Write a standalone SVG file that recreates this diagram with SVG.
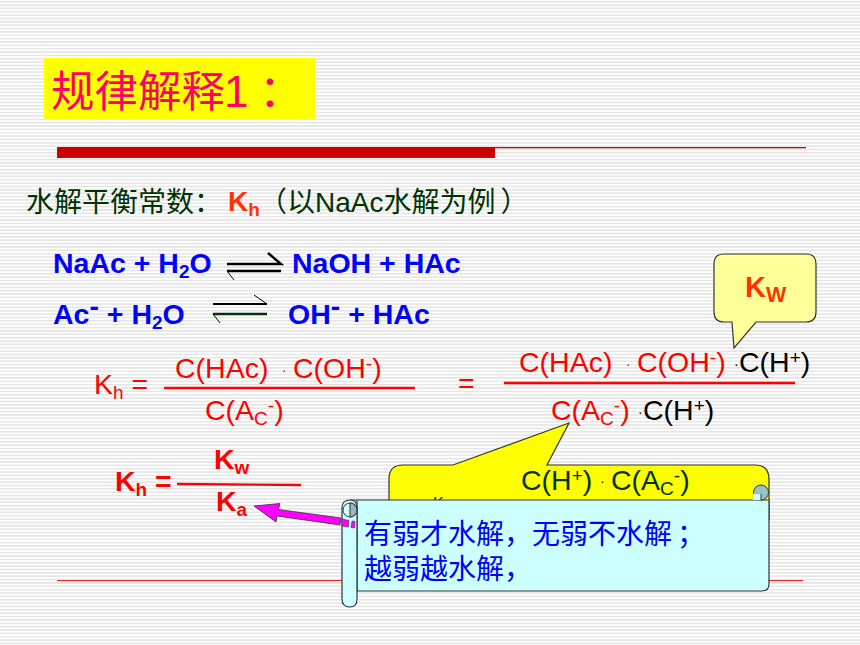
<svg xmlns="http://www.w3.org/2000/svg" width="860" height="645" viewBox="0 0 860 645">
<style>
text{font-family:"Liberation Sans","Noto Sans CJK SC",sans-serif}
.cjk{font-family:"Noto Sans CJK SC","Liberation Sans",sans-serif}
.blue{fill:#0000ff;font-weight:bold;font-size:28.500px}
.red{fill:#ff0000;font-size:28.500px}
.blk{fill:#000;font-size:28.500px}
.bold{fill:#ff0000;font-weight:bold;font-size:28.500px}
.dk{fill:#003300;font-size:28.500px}
.sub{font-size:19px}
.dot{font-size:14px}
.eqb{stroke:#000;fill:none;stroke-width:2.4}
.rl{stroke:#ff0000;stroke-width:2.4;fill:none}
.ol{stroke:#333;stroke-width:1.2}
</style>
<defs>
<pattern id="stripes" width="10" height="3.36" patternUnits="userSpaceOnUse">
<rect width="10" height="3.36" fill="#fff"/>
<rect y="0.9" width="10" height="1.5" fill="#e4e4e4"/>
</pattern>
</defs>
<rect width="860" height="645" fill="url(#stripes)"/>
<g id="title">
<rect x="44" y="58" width="271" height="61" fill="#ffff00"/>
<text x="51" y="107" class="cjk" font-size="43.500" fill="#ff0066">规律解释</text>
<text x="224" y="107" font-size="44" fill="#ff0066">1</text>
<text x="259" y="107" class="cjk" font-size="44" fill="#ff0066">：</text>
</g>
<g id="rule-top">
<rect x="57" y="147" width="438" height="11" fill="#cc0000"/>
<rect x="495" y="147" width="311" height="1.300" fill="#cc0000"/>
</g>
<g id="rule-bottom"><rect x="57" y="580" width="746" height="1.200" fill="#e83030"/></g>
<g id="heading">
<text x="26" y="212" font-size="28" class="cjk" fill="#003300">水解平衡常数：</text>
<text x="228" y="211" font-size="28" font-weight="bold" fill="#ff3300">K<tspan font-size="19" dy="5">h</tspan></text>
<text x="259" y="212" font-size="28" fill="#003300"><tspan class="cjk">（以</tspan>NaAc<tspan class="cjk">水解为例</tspan><tspan class="cjk" dx="5">）</tspan></text>
</g>
<g id="eq1">
<text x="53" y="273" class="blue">NaAc + H<tspan class="sub" dy="5">2</tspan><tspan dy="-5">O</tspan></text>
<text x="292" y="273" class="blue">NaOH + HAc</text>
</g>
<g id="eq2">
<text x="53" y="324" class="blue">Ac<tspan dy="-8">-</tspan><tspan dy="8"> + H</tspan><tspan class="sub" dy="5">2</tspan><tspan dy="-5">O</tspan></text>
<text x="288" y="324" class="blue">OH<tspan dy="-8">-</tspan><tspan dy="8"> + HAc</tspan></text>
</g>
<g id="connectors">
<path class="eqb" d="M227 264H281L268 253"/>
<path class="eqb" d="M227 271H281"/>
<path stroke="#000" fill="none" d="M227 271L234 280"/>
<path stroke="#000" stroke-width="2" fill="none" d="M213 304H267"/>
<path stroke="#000" fill="none" d="M267 304L254 295"/>
<path stroke="#003300" stroke-width="2.4" fill="none" d="M213 314H267"/>
<path stroke="#000" fill="none" d="M213 314L220 323"/>
<path d="M254 506L280 503.500L278.500 509.500L341 518L340 525L277 516L276 522Z" fill="#ff00ff" stroke="#333" stroke-width="0.8"/>
</g>
<g id="kh-formula">
<text x="94" y="394" class="red">K<tspan class="sub" dy="5">h</tspan><tspan dy="-5"> =</tspan></text>
<text x="175" y="378" class="red">C(HAc)</text>
<text x="282" y="375" class="red dot">·</text>
<text x="293" y="378" class="red">C(OH<tspan class="sub" dy="-8">-</tspan><tspan dy="8">)</tspan></text>
<line class="rl" x1="164" y1="388" x2="415" y2="388"/>
<text x="205" y="420" class="red">C(A<tspan class="sub" dy="5">C</tspan><tspan class="sub" dy="-13">-</tspan><tspan dy="8">)</tspan></text>
</g>
<g id="kh-expanded">
<text x="458" y="393" class="red">=</text>
<text x="519" y="372" class="red">C(HAc)</text>
<text x="626" y="369" class="red dot">·</text>
<text x="637" y="372" class="red">C(OH<tspan class="sub" dy="-8">-</tspan><tspan dy="8">)</tspan></text>
<text x="734" y="369" class="blk dot">·</text>
<text x="739" y="372" class="blk">C(H<tspan class="sub" dy="-8">+</tspan><tspan dy="8">)</tspan></text>
<line class="rl" x1="504" y1="383" x2="795" y2="383"/>
<text x="551" y="420" class="red">C(A<tspan class="sub" dy="5">C</tspan><tspan class="sub" dy="-13">-</tspan><tspan dy="8">)</tspan></text>
<text x="638" y="417" class="blk dot">·</text>
<text x="643" y="420" class="blk">C(H<tspan class="sub" dy="-8">+</tspan><tspan dy="8">)</tspan></text>
</g>
<g id="kw-callout">
<path class="ol" fill="#ffff99" d="M724 254H806Q816 254 816 264V312Q816 322 806 322H756L734 348L732 322H724Q714 322 714 312V264Q714 254 724 254Z"/>
<text x="745" y="297" font-size="29" font-weight="bold" fill="#ff3300">K<tspan font-size="21.500" dy="5">W</tspan></text>
</g>
<g id="kh-result">
<text x="115" y="491" class="bold">K<tspan class="sub" dy="5">h</tspan><tspan dy="-5"> =</tspan></text>
<text x="214" y="469" class="bold">K<tspan class="sub" dy="5">w</tspan></text>
<line class="rl" x1="177" y1="484" x2="301" y2="485"/>
<text x="216" y="511" class="bold">K<tspan class="sub" dy="5">a</tspan></text>
</g>
<g id="ka-callout">
<path class="ol" fill="#ffff00" d="M403 465H453L569 423L547 465H755Q769 465 769 479V520H389V479Q389 465 403 465Z"/>
<text x="433" y="509" font-size="16" fill="#003300">K</text>
<text x="521" y="490" class="dk">C(H<tspan class="sub" dy="-8">+</tspan><tspan dy="8">)</tspan></text>
<text x="600" y="486" class="dk dot">·</text>
<text x="611" y="490" class="dk">C(A<tspan class="sub" dy="5">C</tspan><tspan class="sub" dy="-13">-</tspan><tspan dy="8">)</tspan></text>
</g>
<g id="scroll">
<path class="ol" fill="#ccffff" d="M350 500H769V584Q769 591 762 591H357V500Z"/>
<circle cx="761" cy="492.500" r="7.500" fill="#99c2c8" stroke="#333"/>
<rect x="753" y="494" width="8" height="6" fill="#ccffff"/>
<path d="M761 494V500" stroke="#333"/>
<path class="ol" fill="#ccffff" d="M342 508Q342 500 350 500Q357 500 357 508V599Q357 607 350 607Q342 607 342 599Z"/>
<circle cx="350" cy="510" r="7" fill="#ccffff" stroke="#333"/>
<path d="M350 503A7 7 0 0 1 350 517Z" fill="#99b8bd" stroke="#333"/>
<path d="M342 519L349 520.500L348.500 527L342 526Z" fill="#ff00ff" stroke="#333" stroke-width="0.6"/>
<path d="M352 521L355 521.500L354.500 528L351 527.500Z" fill="#ff00ff" stroke="#333" stroke-width="0.6"/>
<text class="cjk" font-size="28" fill="#0000ff"><tspan x="364" y="544">有弱才水解，无弱不水解<tspan dx="5">；</tspan></tspan><tspan x="364" y="579">越弱越水解，</tspan></text>
</g>
</svg>
